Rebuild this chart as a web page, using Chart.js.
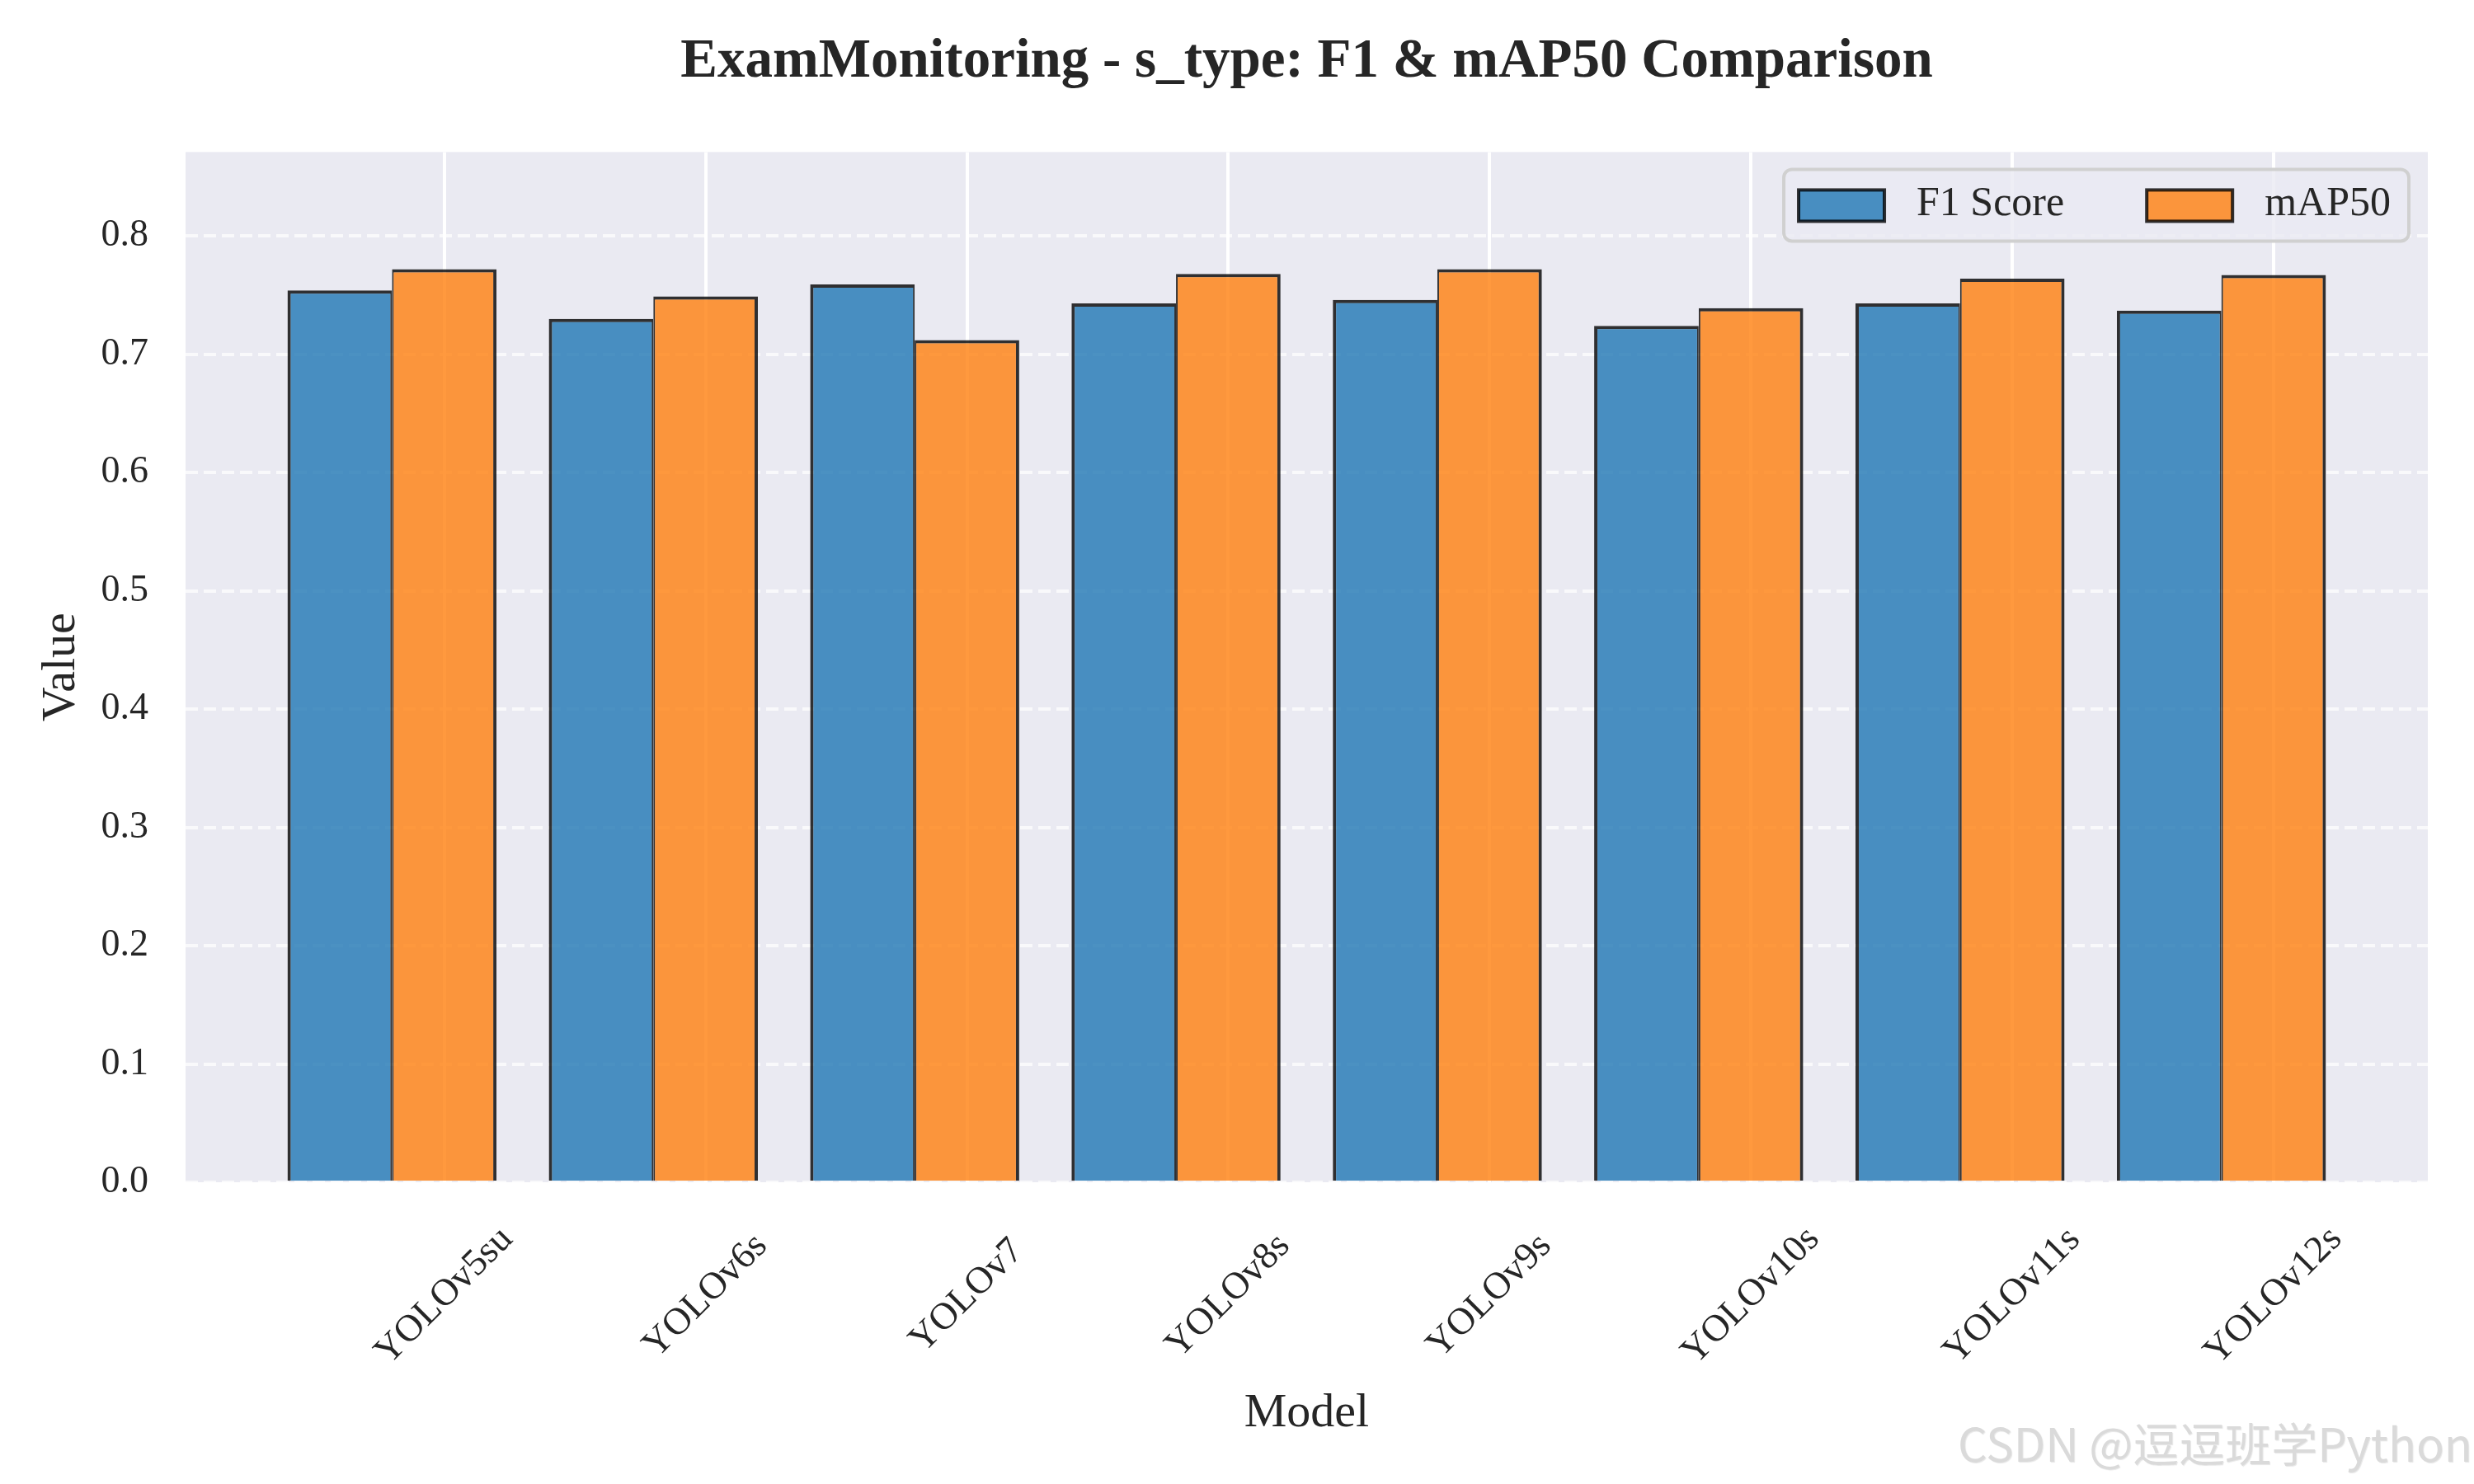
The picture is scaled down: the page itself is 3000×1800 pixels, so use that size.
<!DOCTYPE html>
<html>
<head>
<meta charset="utf-8">
<title>ExamMonitoring - s_type: F1 &amp; mAP50 Comparison</title>
<script src="https://cdn.jsdelivr.net/npm/chart.js@4.4.1/dist/chart.umd.min.js"></script>
<style>
  html, body { margin: 0; padding: 0; background: #ffffff; }
  canvas { display: block; }
</style>
</head>
<body>
<canvas id="chart" width="3000" height="1800"></canvas>
<script>
const models = ['YOLOv5su', 'YOLOv6s', 'YOLOv7', 'YOLOv8s', 'YOLOv9s', 'YOLOv10s', 'YOLOv11s', 'YOLOv12s'];
const f1Scores = [0.754, 0.730, 0.759, 0.743, 0.746, 0.724, 0.743, 0.737];
const map50Scores = [0.772, 0.749, 0.712, 0.768, 0.772, 0.739, 0.764, 0.767];
const yTickValues = [0.0, 0.1, 0.2, 0.3, 0.4, 0.5, 0.6, 0.7, 0.8];

const serif = '"Liberation Serif", "Times New Roman", "DejaVu Serif", serif';
const textColor = '#262626';
const tickOffset = 0.2; // tick sits under the mAP50 bar, like x + width/2

// plot background (seaborn darkgrid look)
const plotBackground = {
    id: 'plotBackground',
    beforeDraw(chart) {
        const { ctx, chartArea: a } = chart;
        ctx.save();
        ctx.fillStyle = '#eaeaf2';
        ctx.fillRect(a.left, a.top, a.right - a.left, a.bottom - a.top);
        ctx.restore();
    }
};

// rotated x labels, centred on their tick like matplotlib's default
const xLabels = {
    id: 'xLabels',
    afterDraw(chart) {
        const { ctx, chartArea: a } = chart;
        const xScale = chart.scales.x;
        ctx.save();
        ctx.font = '46px ' + serif;
        ctx.fillStyle = textColor;
        ctx.textAlign = 'center';
        ctx.textBaseline = 'middle';
        models.forEach((name, i) => {
            const px = xScale.getPixelForValue(i + tickOffset);
            ctx.save();
            ctx.translate(px, a.bottom + 138);
            ctx.rotate(-Math.PI / 4);
            ctx.fillText(name, 0, 0);
            ctx.restore();
        });
        ctx.restore();
    }
};

// framed legend in the upper right corner of the axes
const boxLegend = {
    id: 'boxLegend',
    afterDatasetsDraw(chart) {
        const { ctx, chartArea: a } = chart;
        const sets = chart.data.datasets;
        ctx.save();
        ctx.font = '50px ' + serif;
        const widths = sets.map(d => ctx.measureText(d.label).width);
        const padL = 18, padR = 22, sw = 104, sh = 38, gap = 39, itemGap = 100;
        const w = padL + padR + sets.length * (sw + gap) + widths.reduce((s, v) => s + v, 0) + itemGap * (sets.length - 1);
        const h = 87;
        const right = a.right - 23, top = a.top + 21, left = right - w;

        ctx.beginPath();
        ctx.roundRect(left, top, w, h, 10);
        ctx.fillStyle = 'rgba(234,234,242,0.8)';
        ctx.fill();
        ctx.lineWidth = 4;
        ctx.strokeStyle = '#d0d0d0';
        ctx.stroke();

        let x = left + padL;
        const midY = top + h / 2;
        sets.forEach((d, i) => {
            ctx.fillStyle = d.backgroundColor;
            ctx.fillRect(x, midY - sh / 2 + 0.5, sw, sh);
            ctx.lineWidth = 4;
            ctx.strokeStyle = 'rgba(0,0,0,0.8)';
            ctx.strokeRect(x, midY - sh / 2 + 0.5, sw, sh);
            x += sw + gap;
            ctx.fillStyle = textColor;
            ctx.textAlign = 'left';
            ctx.textBaseline = 'alphabetic';
            ctx.fillText(d.label, x, top + 56);
            x += widths[i] + itemGap;
        });
        ctx.restore();
    }
};

// blog watermark, bottom right
const watermark = {
    id: 'watermark',
    afterDraw(chart) {
        const { ctx } = chart;
        ctx.save();
        ctx.font = '56px "Noto Sans CJK SC", "Noto Sans", sans-serif';
        ctx.textAlign = 'right';
        ctx.textBaseline = 'alphabetic';
        ctx.shadowColor = 'rgba(0,0,0,0.10)';
        ctx.shadowOffsetX = 1;
        ctx.shadowOffsetY = 1;
        ctx.shadowBlur = 1;
        ctx.fillStyle = '#dadada';
        ctx.fillText('CSDN @逗逗班学Python', 2998, 1773);
        ctx.restore();
    }
};

const points = values => values.map((v, i) => ({ x: i, y: v }));

new Chart(document.getElementById('chart'), {
    type: 'bar',
    data: {
        datasets: [{
            label: 'F1 Score',
            data: points(f1Scores),
            backgroundColor: 'rgba(31,119,180,0.8)',
            borderColor: 'rgba(0,0,0,0.8)',
            borderWidth: { top: 4, left: 4, right: 2, bottom: 0 }
        }, {
            label: 'mAP50',
            data: points(map50Scores),
            backgroundColor: 'rgba(255,127,14,0.8)',
            borderColor: 'rgba(0,0,0,0.8)',
            borderWidth: { top: 4, left: 2, right: 4, bottom: 0 }
        }]
    },
    options: {
        responsive: false,
        devicePixelRatio: 1,
        animation: false,
        categoryPercentage: 0.8,
        barPercentage: 1.0,
        layout: { padding: { left: 0, right: 56, top: 0, bottom: 0 } },
        plugins: {
            legend: { display: false },
            tooltip: { enabled: false },
            title: {
                display: true,
                fullSize: false,
                text: 'ExamMonitoring - s_type: F1 & mAP50 Comparison',
                color: textColor,
                font: { family: serif, size: 67, weight: 'bold' },
                padding: { top: 35, bottom: 69 }
            }
        },
        scales: {
            x: {
                type: 'linear',
                position: 'bottom',
                offset: false,
                min: -0.79,
                max: 7.79,
                afterBuildTicks: scale => {
                    scale.ticks = models.map((_, i) => ({ value: i + tickOffset }));
                },
                afterFit: scale => { scale.height = 366; },
                ticks: { display: false },
                grid: { color: '#ffffff', lineWidth: 4, drawTicks: false, offset: false },
                border: { display: false },
                title: {
                    display: true,
                    text: 'Model',
                    color: textColor,
                    font: { family: serif, size: 58 },
                    padding: { top: 0, bottom: 50 }
                }
            },
            y: {
                min: 0,
                max: 0.871,
                afterBuildTicks: scale => {
                    scale.ticks = yTickValues.map(v => ({ value: v }));
                },
                afterFit: scale => { scale.width = 225; },
                ticks: {
                    color: textColor,
                    font: { family: serif, size: 46 },
                    padding: 45,
                    callback: v => Number(v).toFixed(1)
                },
                grid: { color: 'rgba(255,255,255,0.7)', lineWidth: 4, drawTicks: false },
                border: { display: false, dash: [15, 7] },
                title: {
                    display: true,
                    text: 'Value',
                    color: textColor,
                    font: { family: serif, size: 58 },
                    padding: { top: 40, bottom: 0 }
                }
            }
        }
    },
    plugins: [plotBackground, xLabels, boxLegend, watermark]
});
</script>
</body>
</html>
